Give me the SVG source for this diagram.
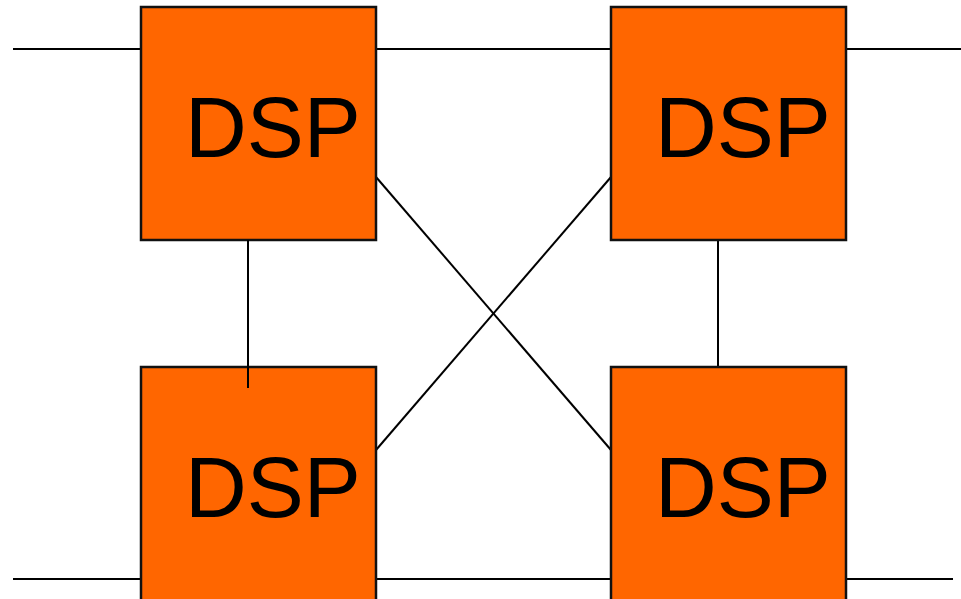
<svg xmlns="http://www.w3.org/2000/svg" width="961" height="599" viewBox="0 0 961 599">
<style>
.box{fill:#ff6600;stroke:#111;stroke-width:2.5}
.lbl{font-family:"Liberation Sans",Arial,sans-serif;font-size:85.5px;fill:#000}
.wire{stroke:#000;stroke-width:2;fill:none}
</style>
<rect width="961" height="599" fill="#fff"/>
<g id="connectors">
<line class="wire" x1="13" y1="49" x2="141" y2="49"/>
<line class="wire" x1="376" y1="49" x2="611" y2="49"/>
<line class="wire" x1="847" y1="49" x2="961" y2="49"/>
<line class="wire" x1="13" y1="579" x2="141" y2="579"/>
<line class="wire" x1="376" y1="579" x2="611" y2="579"/>
<line class="wire" x1="847" y1="579" x2="953" y2="579"/>
<line class="wire" x1="376" y1="177" x2="611" y2="450"/>
<line class="wire" x1="376" y1="450" x2="611" y2="177"/>
<line class="wire" x1="718" y1="240" x2="718" y2="367"/>
</g>
<g id="dsp1"><rect class="box" x="141" y="7" width="235" height="233"/><text class="lbl" x="185" y="157">DSP</text></g>
<g id="dsp2"><rect class="box" x="611" y="7" width="235" height="233"/><text class="lbl" x="655" y="157">DSP</text></g>
<g id="dsp3"><rect class="box" x="141" y="367" width="235" height="240"/><text class="lbl" x="185" y="517">DSP</text></g>
<g id="dsp4"><rect class="box" x="611" y="367" width="235" height="240"/><text class="lbl" x="655" y="517">DSP</text></g>
<g id="connectors-over"><line class="wire" x1="248" y1="240" x2="248" y2="388"/></g>
</svg>
